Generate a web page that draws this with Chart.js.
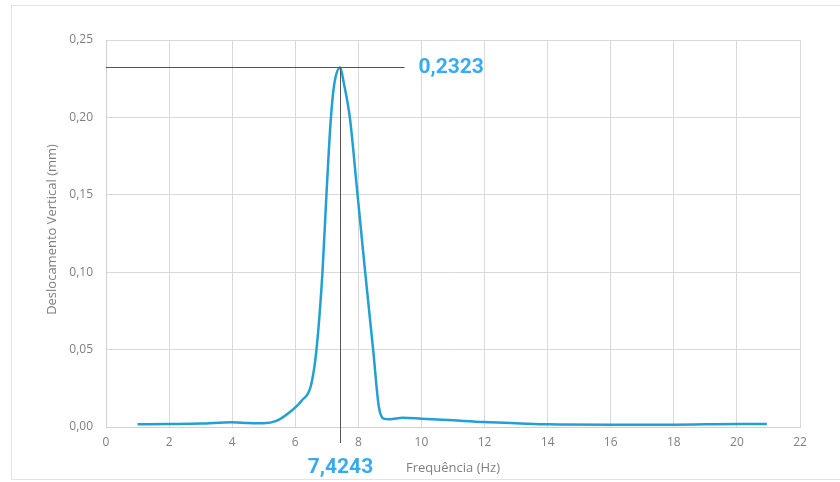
<!DOCTYPE html>
<html>
<head>
<meta charset="utf-8">
<script src="https://cdn.jsdelivr.net/npm/chart.js@4"></script>
<style>
html,body{margin:0;padding:0;background:#fff;}
canvas{display:block;}
</style>
</head>
<body>
<canvas id="c" width="840" height="482"></canvas>
<script>
// Data
const frequencies = [1.0, 2.0, 3.0, 4.0, 4.5, 5.0, 5.4, 5.8, 6.2, 6.5, 6.67, 6.86, 6.99, 7.13, 7.24, 7.4243, 7.54, 7.73, 7.97, 8.22, 8.47, 8.65, 8.8, 9.0, 9.4, 10.0, 11.0, 12.0, 13.0, 14.0, 16.0, 18.0, 20.0, 20.95];
const displacements = [0.0017, 0.0019, 0.0022, 0.0030, 0.0026, 0.0024, 0.0039, 0.0092, 0.0170, 0.0270, 0.0496, 0.0992, 0.1509, 0.1998, 0.2220, 0.2323, 0.2220, 0.1998, 0.1509, 0.0992, 0.0496, 0.0129, 0.0054, 0.0050, 0.0060, 0.0054, 0.0043, 0.0032, 0.0025, 0.0017, 0.0015, 0.0015, 0.0019, 0.0019];
const peakFrequency = 7.4243;
const peakDisplacement = 0.2323;
const peakFrequencyLabel = "7,4243";
const peakDisplacementLabel = "0,2323";
const xTitle = "Frequência (Hz)";
const yTitle = "Deslocamento Vertical (mm)";

const points = frequencies.map((f, i) => ({x: f, y: displacements[i]}));

const frame = {
  id: 'frame',
  beforeDraw(chart) {
    const ctx = chart.ctx;
    ctx.save();
    ctx.strokeStyle = '#e3e3e3';
    ctx.lineWidth = 1;
    ctx.strokeRect(11.5, 5.5, 840, 474);
    ctx.restore();
  }
};

const annot = {
  id: 'annot',
  afterDraw(chart) {
    const ctx = chart.ctx;
    const xs = chart.scales.x, ys = chart.scales.y;
    const area = chart.chartArea;
    const px = Math.round(xs.getPixelForValue(peakFrequency)) + 0.5;
    const py = Math.round(ys.getPixelForValue(peakDisplacement)) + 0.5;
    ctx.save();
    ctx.strokeStyle = '#555555';
    ctx.lineWidth = 1;
    ctx.beginPath();
    ctx.moveTo(area.left, py);
    ctx.lineTo(px + 64, py);
    ctx.moveTo(px, py);
    ctx.lineTo(px, area.bottom + 16);
    ctx.stroke();
    ctx.fillStyle = '#38aaf0';
    ctx.font = 'bold 21px Roboto';
    ctx.textBaseline = 'middle';
    ctx.textAlign = 'left';
    ctx.fillText(peakDisplacementLabel, px + 78, py);
    ctx.textAlign = 'center';
    ctx.fillText(peakFrequencyLabel, px, area.bottom + 41);
    // axis titles
    ctx.fillStyle = '#7f7f7f';
    ctx.font = '13px "Open Sans"';
    ctx.textAlign = 'center';
    ctx.fillText(xTitle, (area.left + area.right) / 2, area.bottom + 41);
    ctx.translate(52, (area.top + area.bottom) / 2 - 4);
    ctx.rotate(-Math.PI / 2);
    ctx.fillText(yTitle, 0, 0);
    ctx.restore();
  }
};

new Chart(document.getElementById('c'), {
  type: 'line',
  data: {
    datasets: [{
      data: points,
      borderColor: '#22a0d4',
      borderWidth: 2.5,
      pointRadius: 0,
      fill: false,
      cubicInterpolationMode: 'monotone'
    }]
  },
  options: {
    responsive: false,
    animation: false,
    layout: {padding: {left: 0, right: 40, top: 40, bottom: 0}},
    plugins: {legend: {display: false}, tooltip: {enabled: false}},
    scales: {
      x: {
        type: 'linear', min: 0, max: 22,
        ticks: {stepSize: 2, color: '#7f7f7f', font: {family: 'Open Sans', size: 12}, padding: 8, maxRotation: 0},
        grid: {color: '#d9d9d9', drawTicks: false},
        border: {color: '#d0d0d0'},
        afterFit(s) { s.height = 55; }
      },
      y: {
        min: 0, max: 0.25,
        ticks: {stepSize: 0.05, color: '#7f7f7f', font: {family: 'Open Sans', size: 12}, padding: 13,
          callback: v => v.toFixed(2).replace('.', ',')},
        grid: {color: '#d9d9d9', drawTicks: false},
        border: {color: '#d0d0d0'},
        afterFit(s) { s.width = 106; }
      }
    }
  },
  plugins: [frame, annot]
});
</script>
</body>
</html>
